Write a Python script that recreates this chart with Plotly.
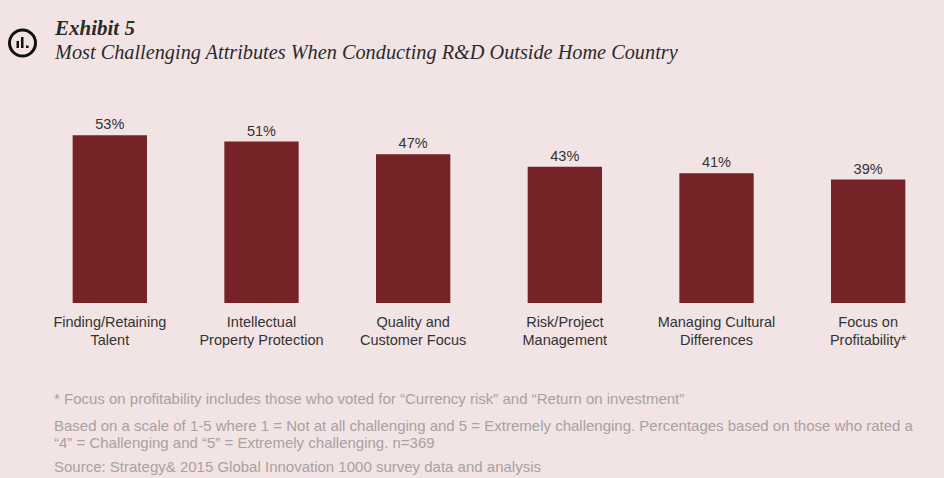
import plotly.graph_objects as go

# chart data
categories = [
    "Finding/Retaining<br>Talent",
    "Intellectual<br>Property Protection",
    "Quality and<br>Customer Focus",
    "Risk/Project<br>Management",
    "Managing Cultural<br>Differences",
    "Focus on<br>Profitability*",
]
values = [53, 51, 47, 43, 41, 39]
value_labels = [f"{v}%" for v in values]

footnote_lines = [
    "* Focus on profitability includes those who voted for \u201cCurrency risk\u201d and \u201cReturn on investment\u201d",
    "Based on a scale of 1-5 where 1 = Not at all challenging and 5 = Extremely challenging. Percentages based on those who rated a",
    "\u201c4\u201d = Challenging and \u201c5\u201d = Extremely challenging. n=369",
    "Source: Strategy& 2015 Global Innovation 1000 survey data and analysis",
]
footnote_y = [398, 425, 442, 466]

W, H = 944, 478
ML, MR, MT, MB = 34, 0, 113, 175
BG = "#f2e4e4"
BAR = "#762328"
DARK = "#333333"
GREY = "#a9a1a1"


# helpers to place decorations in pixel terms
def px(x):
    return (x - ML) / (W - ML - MR)


def py(y):
    return 1 - (y - MT) / (H - MT - MB)


fig = go.Figure()

fig.add_trace(
    go.Bar(
        x=list(range(len(categories))),
        y=values,
        text=value_labels,
        textposition="outside",
        textfont=dict(family="Liberation Sans", size=14.5, color=DARK),
        marker=dict(color=BAR, line=dict(width=0)),
        cliponaxis=False,
        hoverinfo="skip",
    )
)

annotations = [
    dict(x=px(52), y=py(28), text="<b><i>Exhibit 5</i></b>",
         font=dict(family="Liberation Serif", size=21, color="#2b2b2b")),
    dict(x=px(52), y=py(53), text="<i>Most Challenging Attributes When Conducting R&D Outside Home Country</i>",
         font=dict(family="Liberation Serif", size=20.3, color="#2b2b2b")),
]
for line, yy in zip(footnote_lines, footnote_y):
    annotations.append(dict(x=px(52), y=py(yy), text=line,
                            font=dict(family="Liberation Sans", size=15, color=GREY)))
for a in annotations:
    a.update(xref="paper", yref="paper", xanchor="left", yanchor="middle",
             showarrow=False, align="left")

# small chart icon next to the title
shapes = [
    dict(type="circle", x0=px(9.5), x1=px(35.5), y0=py(30), y1=py(56),
         line=dict(color="#111111", width=3)),
    dict(type="rect", x0=px(16.5), x1=px(19), y0=py(41), y1=py(48),
         fillcolor="#111111", line=dict(width=0)),
    dict(type="rect", x0=px(21), x1=px(23.5), y0=py(37), y1=py(48),
         fillcolor="#111111", line=dict(width=0)),
    dict(type="rect", x0=px(26), x1=px(28.5), y0=py(45.5), y1=py(48),
         fillcolor="#111111", line=dict(width=0)),
]
for s in shapes:
    s.update(xref="paper", yref="paper")

fig.update_layout(
    width=W,
    height=H,
    margin=dict(l=ML, r=MR, t=MT, b=MB),
    paper_bgcolor=BG,
    plot_bgcolor=BG,
    showlegend=False,
    bargap=0.51,
    annotations=annotations,
    shapes=shapes,
    xaxis=dict(
        tickmode="array",
        tickvals=list(range(len(categories))),
        ticktext=categories,
        range=[-0.5, len(categories) - 0.5],
        showgrid=False,
        zeroline=False,
        showline=False,
        ticks="",
        ticklabelstandoff=8,
        tickfont=dict(family="Liberation Sans", size=14.5, color=DARK),
    ),
    yaxis=dict(
        range=[0, 60],
        visible=False,
    ),
)

# drop the page's default body margin so the figure sits at the window corner
fig.write_html(
    "out.html",
    config={"displayModeBar": False},
    post_script="document.body.style.margin='0';",
)
